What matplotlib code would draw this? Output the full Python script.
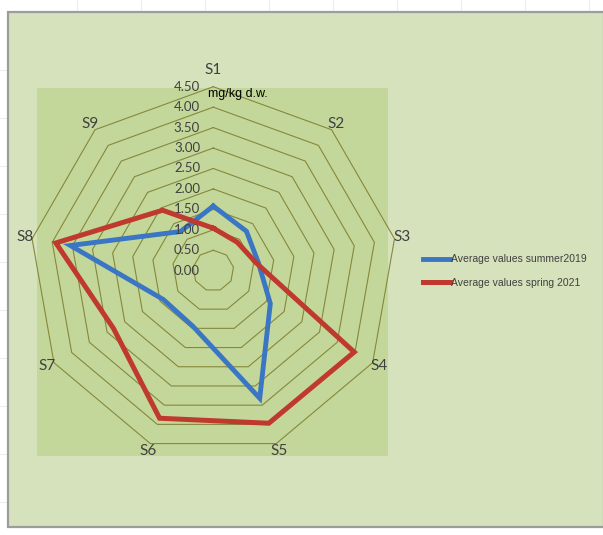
import numpy as np
import matplotlib
matplotlib.use("Agg")
import matplotlib.pyplot as plt
from matplotlib.patches import Rectangle
from matplotlib.lines import Line2D

# ---- data -------------------------------------------------------------
categories = ["S1", "S2", "S3", "S4", "S5", "S6", "S7", "S8", "S9"]
summer_2019 = [1.58, 1.26, 1.12, 1.61, 3.32, 1.45, 1.41, 3.55, 1.25]
spring_2021 = [1.04, 0.91, 1.07, 3.98, 3.97, 3.84, 2.82, 3.91, 1.93]
series_names = ["Average values summer2019", "Average values spring 2021"]
ring_values = [0.5, 1.0, 1.5, 2.0, 2.5, 3.0, 3.5, 4.0, 4.5]
tick_values = [0.0, 0.5, 1.0, 1.5, 2.0, 2.5, 3.0, 3.5, 4.0, 4.5]
tick_labels = ["0.00", "0.50", "1.00", "1.50", "2.00", "2.50", "3.00",
               "3.50", "4.00", "4.50"]
unit_label = "mg/kg d.w."

# ---- styling ----------------------------------------------------------
W, H = 603, 535
CHART_BG = "#d6e2bb"
PLOT_BG = "#c4d79b"
GRID = "#85883a"
TEXT = "#404040"
BLUE = "#3b76c4"
RED = "#c0392e"
LABEL_FONT = ["Lato", "DejaVu Sans"]
NARROW_FONT = ["Liberation Sans", "DejaVu Sans"]


def fig_rect(x0, y0, x1, y1):
    """Pixel box (top-left origin) -> figure-fraction rectangle."""
    return x0 / W, 1 - y1 / H, (x1 - x0) / W, (y1 - y0) / H


fig = plt.figure(figsize=(W / 100, H / 100), dpi=100)
fig.patch.set_facecolor("white")

# faint worksheet cell lines around the chart object
for x in range(77, W, 64):
    fig.add_artist(Line2D([x / W, x / W], [1 - 12 / H, 1], color="#ececec",
                          lw=0.7, transform=fig.transFigure, zorder=-3))
for y in range(70, H, 48):
    fig.add_artist(Line2D([0, 8 / W], [1 - y / H, 1 - y / H], color="#ececec",
                          lw=0.7, transform=fig.transFigure, zorder=-3))

# chart area and plot area (behind the radar axes)
x, y, w, h = fig_rect(8, 12, 604, 527)
fig.add_artist(Rectangle((x, y), w, h, transform=fig.transFigure,
                         facecolor=CHART_BG, edgecolor="#9c9c9c", lw=1.6,
                         zorder=-2))
x, y, w, h = fig_rect(37, 88, 388, 456)
fig.add_artist(Rectangle((x, y), w, h, transform=fig.transFigure,
                         facecolor=PLOT_BG, edgecolor="none", zorder=-1))

# radar axes: centre (213.3, 270.7) px, radius 184 px for 4.5
cx, cy, R = 213.3, 270.7, 184.0
ax = fig.add_axes(fig_rect(cx - R, cy - R, cx + R, cy + R), projection="polar")
ax.set_facecolor("none")
ax.set_theta_zero_location("N")
ax.set_theta_direction(-1)
ax.set_ylim(0, 4.5)
ax.grid(False)
ax.set_xticks([])
ax.set_yticks([])
ax.spines["polar"].set_visible(False)

n = len(categories)
theta = np.linspace(0, 2 * np.pi, n, endpoint=False)
theta_c = np.append(theta, theta[0])

# polygonal grid rings
for v in ring_values:
    ax.plot(theta_c, [v] * (n + 1), color=GRID, lw=0.8, zorder=1,
            clip_on=False)

# series
h1, = ax.plot(theta_c, summer_2019 + summer_2019[:1], color=BLUE, lw=3.5,
              zorder=3, clip_on=False, solid_joinstyle="miter")
h2, = ax.plot(theta_c, spring_2021 + spring_2021[:1], color=RED, lw=3.6,
              zorder=4, clip_on=False, solid_joinstyle="miter")

# radial value labels along the S1 axis
for v, lab in zip(tick_values, tick_labels):
    ax.annotate(lab, xy=(0, v), xytext=(-9.5, 0), textcoords="offset points",
                ha="right", va="center", fontsize=9.5, color=TEXT,
                family=LABEL_FONT, annotation_clip=False)

# category labels
for t, cat in zip(theta, categories):
    r = 4.9 if cat == "S1" else 4.68
    ax.text(t, r, cat, ha="center", va="center", fontsize=11, color=TEXT,
            family=LABEL_FONT, clip_on=False)

# unit label
fig.text(208 / W, 1 - 94 / H, unit_label, ha="left", va="center",
         fontsize=9, color="black", family=NARROW_FONT)

# legend
fig.legend(handles=[h1, h2], labels=series_names, loc="center left",
           bbox_to_anchor=(423 / W, 1 - 271 / H), frameon=False,
           handlelength=2.6, handletextpad=0.1, labelspacing=1.3,
           borderpad=0, borderaxespad=0,
           prop={"family": NARROW_FONT, "size": 7.5}, labelcolor=TEXT)

fig.savefig("out.png", dpi=100, facecolor=fig.get_facecolor())
